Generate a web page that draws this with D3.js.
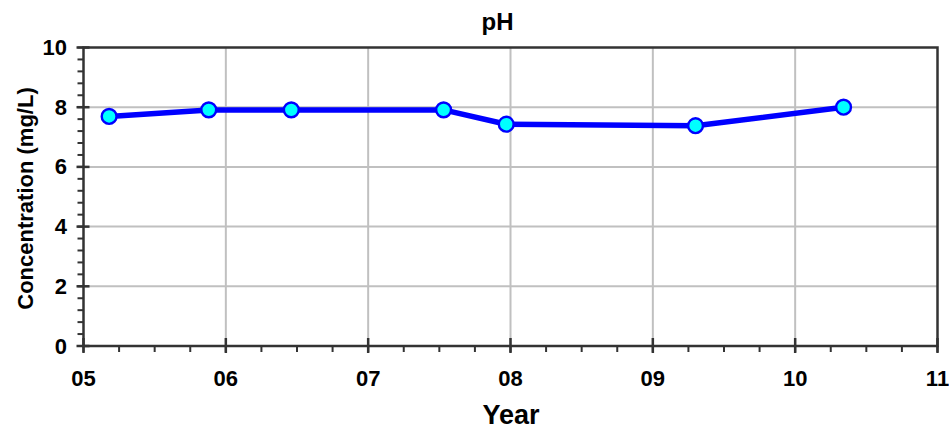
<!DOCTYPE html>
<html>
<head>
<meta charset="utf-8">
<script src="https://cdn.jsdelivr.net/npm/d3@7"></script>
<style>
  html, body { margin: 0; padding: 0; background: #fff; }
  svg { display: block; font-family: "Liberation Sans", Arial, Helvetica, sans-serif; font-weight: bold; }
</style>
</head>
<body>
<svg id="chart" width="949" height="428"></svg>
<script>
// Sample dates (fractional year, two-digit) and pH readings
const years  = [5.18, 5.88, 6.46, 7.53, 7.97, 9.30, 10.34];
const values = [7.69, 7.91, 7.91, 7.91, 7.43, 7.38, 8.00];

const xTicks = [5, 6, 7, 8, 9, 10, 11];
const xTickLabels = ["05", "06", "07", "08", "09", "10", "11"];
const yTicks = [0, 2, 4, 6, 8, 10];

const title = "pH";
const xTitle = "Year";
const yTitle = "Concentration (mg/L)";

const svg = d3.select("#chart");
const m = { left: 83.5, right: 937.5, top: 47.5, bottom: 346 };

const x = d3.scaleLinear().domain([5, 11]).range([m.left, m.right]);
const y = d3.scaleLinear().domain([0, 10]).range([m.bottom, m.top]);

const gridColor = "#c0c0c0";
const axisColor = "#333";

// grid
const grid = svg.append("g");
grid.selectAll("line.gx").data(xTicks.slice(1, -1)).join("line")
  .attr("x1", d => x(d)).attr("x2", d => x(d))
  .attr("y1", m.top).attr("y2", m.bottom)
  .attr("stroke", gridColor).attr("stroke-width", 2);
grid.selectAll("line.gy").data(yTicks.slice(1, -1)).join("line")
  .attr("y1", d => y(d)).attr("y2", d => y(d))
  .attr("x1", m.left).attr("x2", m.right)
  .attr("stroke", gridColor).attr("stroke-width", 2);

// frame
svg.append("rect")
  .attr("x", m.left).attr("y", m.top)
  .attr("width", m.right - m.left).attr("height", m.bottom - m.top)
  .attr("fill", "none").attr("stroke", axisColor).attr("stroke-width", 2.5);

// minor ticks
const xMinor = d3.range(5, 11.001, 0.25);
svg.append("g").selectAll("line").data(xMinor).join("line")
  .attr("x1", d => x(d)).attr("x2", d => x(d))
  .attr("y1", m.bottom).attr("y2", m.bottom + 6)
  .attr("stroke", axisColor).attr("stroke-width", 2);
const yMinor = d3.range(0, 10.001, 0.4);
svg.append("g").selectAll("line").data(yMinor).join("line")
  .attr("y1", d => y(d)).attr("y2", d => y(d))
  .attr("x1", m.left - 6).attr("x2", m.left)
  .attr("stroke", axisColor).attr("stroke-width", 2);

// major ticks crossing the axes
svg.append("g").selectAll("line").data(xTicks).join("line")
  .attr("x1", d => x(d)).attr("x2", d => x(d))
  .attr("y1", m.bottom - 8).attr("y2", m.bottom + 7)
  .attr("stroke", axisColor).attr("stroke-width", 2.5);
svg.append("g").selectAll("line").data(yTicks).join("line")
  .attr("y1", d => y(d)).attr("y2", d => y(d))
  .attr("x1", m.left - 7).attr("x2", m.left + 6)
  .attr("stroke", axisColor).attr("stroke-width", 2.5);

// tick labels
svg.append("g").selectAll("text").data(xTicks).join("text")
  .attr("x", d => x(d)).attr("y", 386)
  .attr("text-anchor", "middle").attr("font-size", 22)
  .text((d, i) => xTickLabels[i]);
svg.append("g").selectAll("text").data(yTicks).join("text")
  .attr("x", 67).attr("y", d => y(d) + 7.5)
  .attr("text-anchor", "end").attr("font-size", 22)
  .text(d => d);

// titles
svg.append("text").attr("x", 497.5).attr("y", 29.5)
  .attr("text-anchor", "middle").attr("font-size", 24).text(title);
svg.append("text").attr("x", 511).attr("y", 423.5)
  .attr("text-anchor", "middle").attr("font-size", 27).text(xTitle);
svg.append("text")
  .attr("transform", `translate(33,${(87 + 310) / 2}) rotate(-90)`)
  .attr("text-anchor", "middle").attr("font-size", 22).text(yTitle);

// series
const pts = years.map((d, i) => [d, values[i]]);
svg.append("path").datum(pts)
  .attr("d", d3.line().x(d => x(d[0])).y(d => y(d[1])))
  .attr("fill", "none").attr("stroke", "#0000ff").attr("stroke-width", 5.5)
  .attr("stroke-linejoin", "round");
svg.append("g").selectAll("circle").data(pts).join("circle")
  .attr("cx", d => x(d[0])).attr("cy", d => y(d[1])).attr("r", 7.4)
  .attr("fill", "#00ffff").attr("stroke", "#0000ff").attr("stroke-width", 2.4);
</script>
</body>
</html>
